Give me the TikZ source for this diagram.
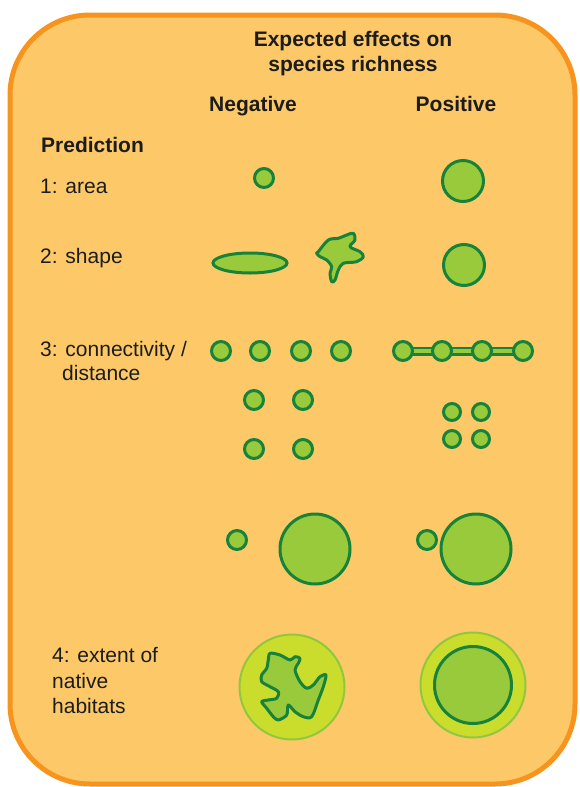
\documentclass[tikz,border=0pt]{standalone}
\usepackage{fontspec}
\setmainfont{Liberation Sans}
\usetikzlibrary{shapes.geometric}

\definecolor{panelfill}{RGB}{253,201,104}
\definecolor{panelline}{RGB}{247,148,29}
\definecolor{patchfill}{RGB}{153,202,60}
\definecolor{patchline}{RGB}{22,130,58}
\definecolor{matrixfill}{RGB}{202,221,44}
\definecolor{matrixline}{RGB}{143,200,62}
\definecolor{ink}{RGB}{28,28,28}

\pgfdeclarelayer{back}
\pgfdeclarelayer{mid}
\pgfsetlayers{back,mid,main}

\begin{document}
\begin{tikzpicture}[x=1pt,y=-1pt,
  txt/.style={font=\fontsize{21}{25}\selectfont, text=ink, inner sep=0pt, anchor=base west},
  head/.style={txt, font=\fontsize{21}{25}\selectfont\bfseries},
  patch/.style={circle, draw=patchline, fill=patchfill, line width=3pt, inner sep=0pt, minimum size=#1},
  patch/.default=19pt,
  blob/.style={draw=patchline, fill=patchfill, line width=3pt, line join=round},
  matrix/.style={circle, draw=matrixline, fill=matrixfill, line width=2pt, inner sep=0pt, minimum size=105pt},
  corridorout/.style={draw=patchline, line width=9pt},
  corridorin/.style={draw=patchfill, line width=4pt}]

\useasboundingbox (0,0) rectangle (580,787);

% panel
\begin{pgfonlayer}{back}
  \draw[panelline, fill=panelfill, line width=5pt, rounded corners=80pt] (10,15) rectangle (575,784);
\end{pgfonlayer}

% headings
\node[head, anchor=base] (title1) at (353,46) {Expected effects on};
\node[head, anchor=base] (title2) at (353,71.5) {species richness};
\node[head, anchor=base] (neg) at (253,111.5) {Negative};
\node[head, anchor=base] (pos) at (456,111.5) {Positive};

% prediction labels
\node[head] (pred) at (41,152) {Prediction};
\node[txt] (p1) at (40,193) {1: area};
\node[txt] (p2) at (40,263) {2: shape};
\node[txt] (p3a) at (40,356) {3: connectivity /};
\node[txt] (p3b) at (62,380) {distance};
\node[txt] (p4a) at (52,662) {4: extent of};
\node[txt] (p4b) at (52,688) {native};
\node[txt] (p4c) at (52,713) {habitats};

% 1: area
\node[patch] (a1) at (264,178) {};
\node[patch=41pt] (a2) at (463,181) {};

% 2: shape
\node[ellipse, draw=patchline, fill=patchfill, line width=3pt, inner sep=0pt,
      minimum width=74pt, minimum height=20pt] (s1) at (250,263) {};
\draw[blob] plot[smooth cycle, tension=0.55] coordinates {
  (318.3,251.7) (328.3,240) (338.3,238.3) (346.7,235) (353.3,233.3)
  (355,240) (350,246.7) (360,251.7) (363.3,256.7) (356.7,261.7)
  (343.3,263.3) (338.3,270) (335,280) (331.7,281.7) (330,273.3)
  (331.7,266.7) (326.7,260) (320,256.7) (316.7,253.3)};
\node[patch=41pt] (s2) at (464,265) {};

% 3: connectivity / distance, negative
\node[patch] (n1) at (221,351) {};
\node[patch] (n2) at (260,351) {};
\node[patch] (n3) at (301,351) {};
\node[patch] (n4) at (341,351) {};
\node[patch] (g1) at (254,400) {};
\node[patch] (g2) at (303,400) {};
\node[patch] (g3) at (254,449) {};
\node[patch] (g4) at (303,449) {};

% 3: connectivity / distance, positive
\node[patch] (k1) at (403,351) {};
\node[patch] (k2) at (442,351) {};
\node[patch] (k3) at (482,351) {};
\node[patch] (k4) at (523,351) {};
\begin{pgfonlayer}{mid}
  \draw[corridorout] (k1.center) -- (k4.center);
  \draw[corridorin] (k1.center) -- (k4.center);
\end{pgfonlayer}
\node[patch=17pt] (c1) at (452,412) {};
\node[patch=17pt] (c2) at (481,412) {};
\node[patch=17pt] (c3) at (452,439) {};
\node[patch=17pt] (c4) at (481,439) {};

% distance to a large source
\node[patch] (d1) at (237,540) {};
\node[patch=70pt] (d2) at (315,549) {};
\node[patch] (d3) at (427,540) {};
\node[patch=70pt] (d4) at (476,549) {};

% 4: extent of native habitats
\node[matrix] (m1) at (292,687) {};
\draw[blob] plot[smooth cycle, tension=0.5] coordinates {
  (270,653.3) (280,655) (290,660) (295,656.7) (300,658.3) (298.3,663.3)
  (295,670) (300,681.7) (306.7,688.3) (313.3,685) (320,676.7) (326,675)
  (323.3,686.7) (318.3,700) (311.7,716.7) (303.3,716.7) (295,711.7)
  (288.3,705) (286.7,715) (278.3,720) (273.3,716.7) (266.7,708.3)
  (261.7,701.7) (268.3,700) (276.7,698.3) (278.3,691.7) (270,686.7)
  (261.7,681.7) (261.7,675) (266.7,668.3) (268.3,660)};
\node[matrix] (m2) at (473,685) {};
\node[patch=77pt] (h2) at (473,685) {};

\end{tikzpicture}
\end{document}
